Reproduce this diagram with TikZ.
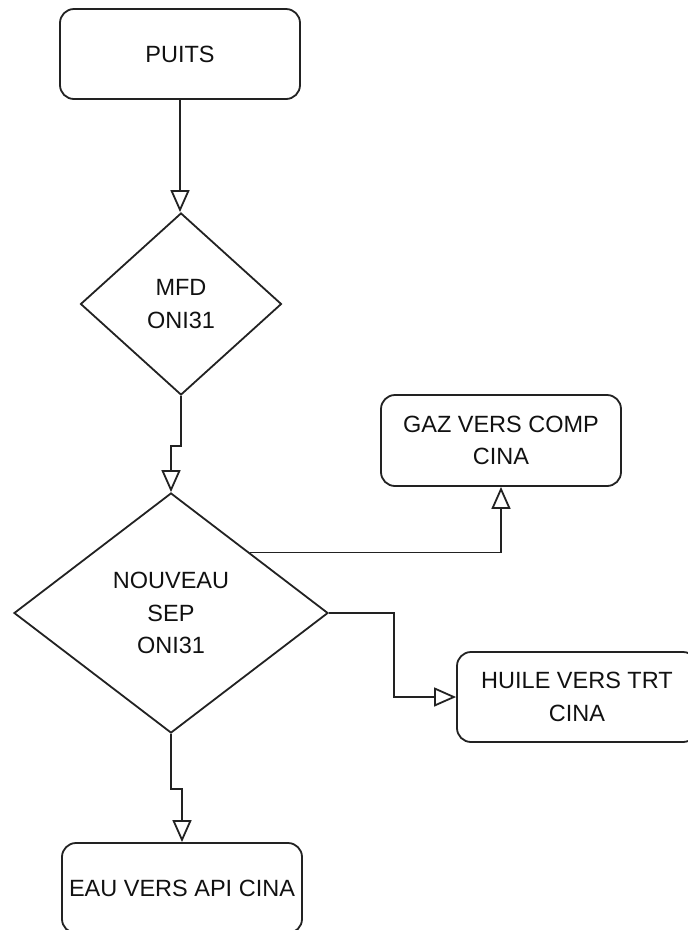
\documentclass[tikz,border=0pt]{standalone}
\usepackage{fontspec}
\setmainfont{Liberation Sans}
\usetikzlibrary{shapes.geometric,arrows.meta}
\definecolor{edge}{HTML}{222222}
\definecolor{ink}{HTML}{111111}
\tikzset{
  flow/.style={draw=edge, line width=1.8pt},
  base/.style={flow, text=ink, align=center, inner sep=0pt,
    font=\fontsize{23.5}{32.5}\selectfont},
  procbox/.style={base, rectangle, rounded corners=14pt,
    minimum width=240pt, minimum height=90pt},
  decision/.style={base, diamond},
  conn/.style={flow, -{Triangle[open, length=22pt, width=19pt, line width=1.8pt]}}
}
\begin{document}
\begin{tikzpicture}[x=1pt, y=-1pt]
  \useasboundingbox (0,0) rectangle (688,930);

  % process blocks
  \node[procbox] (puits) at (180,54) {PUITS};
  \node[procbox, minimum height=91pt] (gaz) at (501,440.5) {GAZ VERS COMP\\CINA};
  \node[procbox] (huile) at (577,697) {HUILE VERS TRT\\CINA};
  \node[procbox] (eau) at (182,888) {EAU VERS API CINA};

  % decisions
  \node[decision, minimum width=201pt, minimum height=182pt] (mfd) at (181,304) {MFD\\ONI31};
  \node[decision, minimum width=314pt, minimum height=240pt] (sep) at (171,613) {NOUVEAU\\SEP\\ONI31};

  % connectors
  \draw[conn] (puits.south) -- (puits.south |- mfd.north);
  \draw[conn] (mfd.south) -- ++(0,50) -| (sep.north);
  \draw[conn] (sep.north east) -| (gaz.south);
  \draw[conn] (sep.east) -- ++(65,0) |- (huile.west);
  \draw[conn] (sep.south) -- ++(0,55) -| (eau.north);
\end{tikzpicture}
\end{document}
